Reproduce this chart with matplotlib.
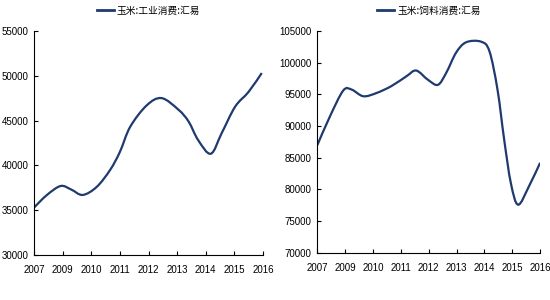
import matplotlib.pyplot as plt
from matplotlib.path import Path
from matplotlib.patches import PathPatch

years = ["2007", "2009", "2010", "2011", "2012", "2013", "2014", "2015", "2016"]

# position on the category axis (0 = 2007 ... 8 = 2016)
gongye_x = [0, 0.45, 0.93, 1.3, 1.7, 2.19, 2.66, 3.0, 3.36, 3.94, 4.46, 5.05, 5.4, 5.74, 6.18, 6.56, 7.03, 7.5, 7.96]
gongye_y = [35300, 36700, 37700, 37300, 36700, 37600, 39500, 41500, 44300, 46700, 47500, 46200, 44900, 42800, 41300, 43600, 46550, 48200, 50300]

siliao_x = [0, 0.45, 0.93, 1.23, 1.65, 2.12, 2.66, 3.2, 3.55, 3.97, 4.33, 4.63, 4.98, 5.34, 5.88, 6.18, 6.47, 6.71, 6.95, 7.21, 7.6, 8.0]
siliao_y = [87000, 91500, 95600, 95750, 94700, 95200, 96300, 97850, 98750, 97300, 96500, 98400, 101550, 103200, 103300, 101800, 95750, 87850, 81000, 77600, 80500, 84200]

farbe = "#1f3a6e"
plt.rcParams['font.family'] = ['Liberation Sans Narrow', 'Liberation Sans', 'DejaVu Sans']

fig = plt.figure(figsize=(5.5, 3), dpi=100)
ax1 = fig.add_axes([0.062, 0.15, 0.416, 0.747])
ax2 = fig.add_axes([0.577, 0.157, 0.405, 0.74])


def smooth_path(x, y):
    # Catmull-Rom through the points, drawn as cubic bezier segments
    pts = list(zip(x, y))
    verts = [pts[0]]
    codes = [Path.MOVETO]
    n = len(pts)
    for i in range(n - 1):
        p0 = pts[max(i - 1, 0)]
        p1 = pts[i]
        p2 = pts[i + 1]
        p3 = pts[min(i + 2, n - 1)]
        c1 = (p1[0] + (p2[0] - p0[0]) / 6, p1[1] + (p2[1] - p0[1]) / 6)
        c2 = (p2[0] - (p3[0] - p1[0]) / 6, p2[1] - (p3[1] - p1[1]) / 6)
        verts += [c1, c2, p2]
        codes += [Path.CURVE4] * 3
    return Path(verts, codes)


def style(ax, x, y, label, ylim, yticks):
    ax.add_patch(PathPatch(smooth_path(x, y), facecolor="none", edgecolor=farbe, lw=1.6))
    ax.plot([], [], color=farbe, lw=2, label=label)
    ax.set_xlim(0, 8)
    ax.set_ylim(*ylim)
    ax.set_yticks(yticks)
    ax.set_xticks(range(len(years)))
    ax.set_xticklabels(years)
    for s in ["top", "right"]:
        ax.spines[s].set_visible(False)
    ax.tick_params(direction="in", length=3, labelsize=7, colors="black", pad=7)
    ax.tick_params(axis="y", pad=4)
    ax.legend(loc="lower center", bbox_to_anchor=(0.5, 1.03), frameon=False,
              prop={"family": ["Noto Sans CJK SC", "DejaVu Sans"], "size": 7},
              handlelength=1.8, handletextpad=0.3)


style(ax1, gongye_x, gongye_y, "玉米:工业消费:汇易", (30000, 55000), range(30000, 55001, 5000))
style(ax2, siliao_x, siliao_y, "玉米:饲料消费:汇易", (70000, 105000), range(70000, 105001, 5000))

plt.savefig("out.png", dpi=100)
